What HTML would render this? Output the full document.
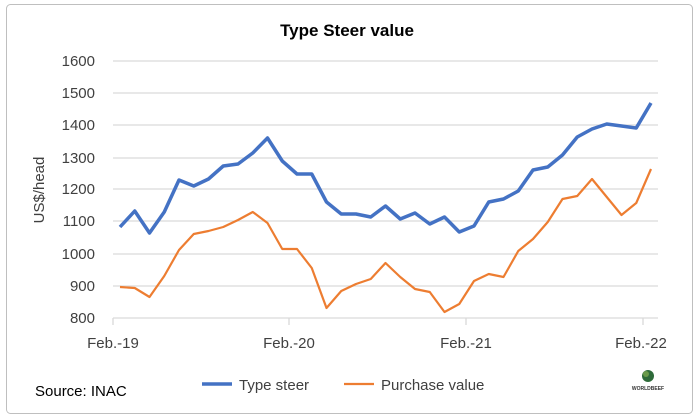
<!DOCTYPE html>
<html><head><meta charset="utf-8"><style>
body{margin:0;background:#fff;}
svg{display:block;font-family:"Liberation Sans",sans-serif;}
</style></head><body>
<svg width="700" height="419" viewBox="0 0 700 419">
<rect x="0.5" y="0.5" width="699" height="418" fill="#fff"/>
<rect x="6.5" y="4.5" width="686" height="409" rx="4" fill="#fff" stroke="#bfbfbf"/>
<text x="347" y="36" font-size="17" font-weight="bold" text-anchor="middle" fill="#000">Type Steer value</text>
<g stroke="#d9d9d9" stroke-width="1.3">
<line x1="113" x2="658" y1="61" y2="61"/><line x1="113" x2="658" y1="93" y2="93"/>
<line x1="113" x2="658" y1="125" y2="125"/><line x1="113" x2="658" y1="158" y2="158"/>
<line x1="113" x2="658" y1="189" y2="189"/><line x1="113" x2="658" y1="221" y2="221"/>
<line x1="113" x2="658" y1="254" y2="254"/><line x1="113" x2="658" y1="286" y2="286"/>
<line x1="113" x2="658" y1="318" y2="318"/>
<line x1="113" x2="113" y1="318" y2="325"/><line x1="289" x2="289" y1="318" y2="325"/>
<line x1="466" x2="466" y1="318" y2="325"/><line x1="643" x2="643" y1="318" y2="325"/>
</g>
<g font-size="15" fill="#404040" text-anchor="end">
<text x="95" y="66">1600</text><text x="95" y="98">1500</text><text x="95" y="130">1400</text>
<text x="95" y="163">1300</text><text x="95" y="194">1200</text><text x="95" y="226">1100</text>
<text x="95" y="259">1000</text><text x="95" y="291">900</text><text x="95" y="323">800</text>
</g>
<text transform="translate(44,190) rotate(-90)" font-size="15" fill="#404040" text-anchor="middle">US$/head</text>
<g font-size="15" fill="#404040" text-anchor="middle">
<text x="113" y="348">Feb.-19</text><text x="289" y="348">Feb.-20</text>
<text x="466" y="348">Feb.-21</text><text x="641" y="348">Feb.-22</text>
</g>
<polyline fill="none" stroke="#4472c4" stroke-width="3.5" stroke-linejoin="round" points="120,227 134.75,211 149.5,233 164.25,212 179,180 193.75,186 208.5,179 223.25,166 238,164 252.75,153 267.5,138 282.25,161 297,174 311.75,174 326.5,202 341.25,214 356,214 370.75,217 385.5,206 400.25,219 415,213 429.75,224 444.5,217 459.25,232 474,226 488.75,202 503.5,199 518.25,191 533,170 547.75,167 562.5,155 577.25,137 592,129 606.75,124 621.5,126 636.25,128 651,103"/>
<polyline fill="none" stroke="#ed7d31" stroke-width="2.2" stroke-linejoin="round" points="120,287 134.75,288 149.5,297 164.25,276 179,250 193.75,234 208.5,231 223.25,227 238,220 252.75,212 267.5,223 282.25,249 297,249 311.75,268 326.5,308 341.25,291 356,284 370.75,279 385.5,263 400.25,277 415,289 429.75,292 444.5,312 459.25,304 474,281 488.75,274 503.5,277 518.25,251 533,239 547.75,222 562.5,199 577.25,196 592,179 606.75,197 621.5,215 636.25,203 651,169"/>
<line x1="202" x2="232" y1="384" y2="384" stroke="#4472c4" stroke-width="3.5"/>
<text x="239" y="390" font-size="15" fill="#404040">Type steer</text>
<line x1="344" x2="374" y1="384" y2="384" stroke="#ed7d31" stroke-width="2.2"/>
<text x="381" y="390" font-size="15" fill="#404040">Purchase value</text>
<text x="35" y="396" font-size="15" fill="#000">Source: INAC</text>
<circle cx="648" cy="376" r="6" fill="#2e6b3a"/>
<circle cx="646" cy="374" r="3" fill="#6a9a4a"/>
<text x="648" y="390" font-size="5" font-weight="bold" text-anchor="middle" fill="#333">WORLDBEEF</text>
</svg>
</body></html>
